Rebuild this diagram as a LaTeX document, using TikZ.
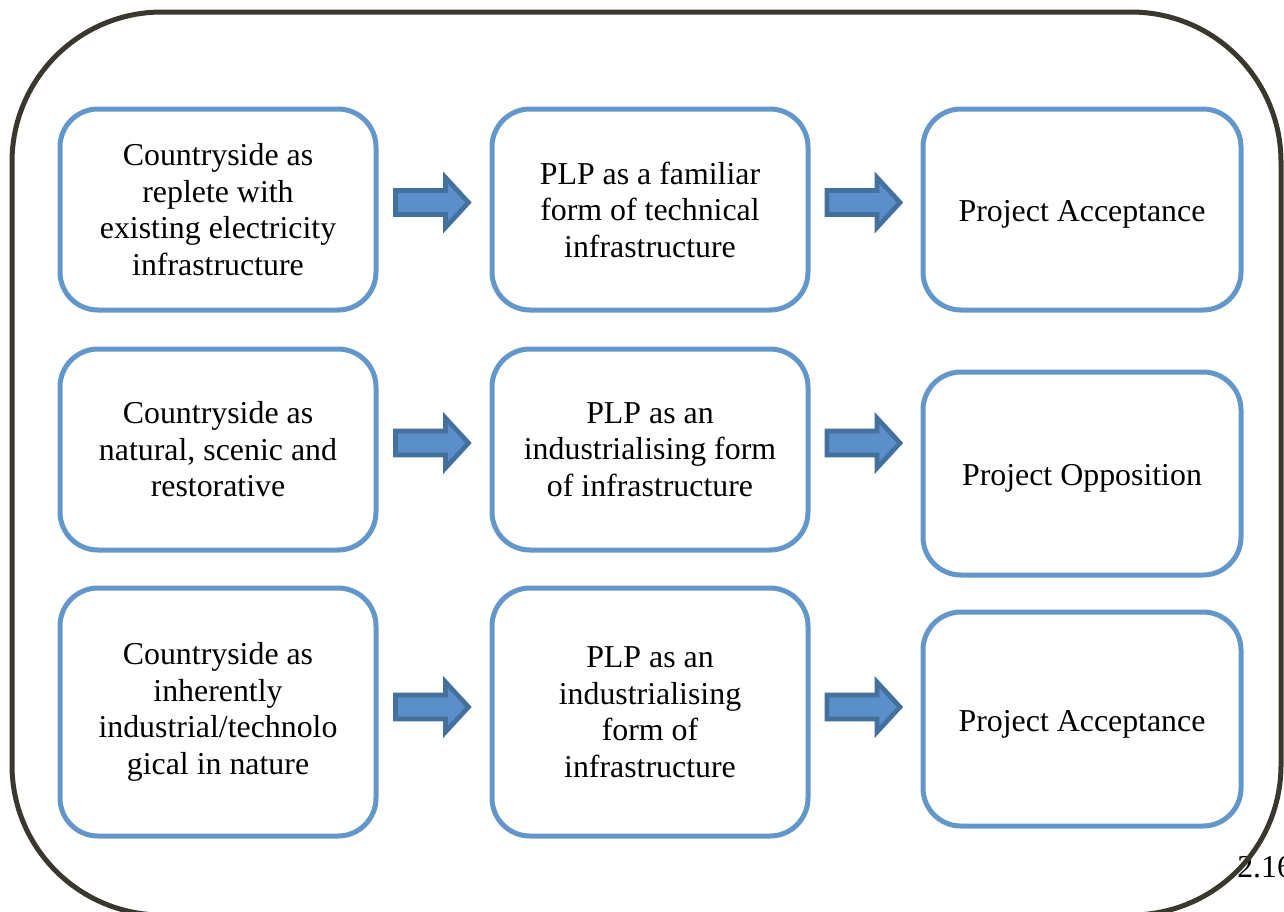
\documentclass[tikz,border=0pt]{standalone}
\usepackage{fontspec}
\setmainfont{Liberation Serif}
\usetikzlibrary{calc}
\definecolor{boxblue}{HTML}{6497C9}
\definecolor{arrfill}{HTML}{5B8FC9}
\definecolor{arredge}{HTML}{44709D}
\definecolor{framecol}{HTML}{3A372F}
\newcommand\flowarrow[3]{%
  \coordinate (tmp) at (#1.east -| #2.west);
  \draw[blockarrow,shift={($(#1.east)!0.5!(tmp)+(-1.5,#3)$)}]
    (-37,-12) -- (13,-12) -- (13,-25) -- (36,0) -- (13,25) -- (13,12) -- (-37,12) -- cycle;}
\begin{document}
\begin{tikzpicture}[x=0.75pt,y=-0.75pt,
  stagebox/.style={draw=boxblue,line width=3.75pt,rounded corners=28.5pt,
    minimum width=237pt,minimum height=150.75pt,inner sep=0pt,align=center,
    font=\fontsize{23.9}{27.4}\selectfont},
  resultbox/.style={stagebox,minimum width=238.5pt,text height=18.5pt,text depth=0pt},
  blockarrow/.style={fill=arrfill,draw=arredge,line width=3.5pt,line join=miter},
  frame/.style={draw=framecol,line width=3.75pt,rounded corners=112.5pt}]
\useasboundingbox (0,0) rectangle (1284,911);
\fill[white] (0,0) rectangle (1284,911);

\node[stagebox] (a1) at (218,209.5) {Countryside as\\replete with\\existing electricity\\infrastructure};
\node[stagebox] (b1) at (650,209.5) {PLP as a familiar\\form of technical\\infrastructure};
\node[resultbox] (c1) at (1082,209.5) {Project Acceptance};

\node[stagebox] (a2) at (218,449.5) {Countryside as\\natural, scenic and\\restorative};
\node[stagebox] (b2) at (650,449.5) {PLP as an\\industrialising form\\of infrastructure};
\node[resultbox,minimum height=152.25pt] (c2) at (1082,473.5) {Project Opposition};

\node[stagebox,minimum height=186pt] (a3) at (218,712) {Countryside as\\inherently\\industrial/technolo\\gical in nature};
\node[stagebox,minimum height=186pt] (b3) at (650,712) {PLP as an\\industrialising\\form of\\infrastructure};
\node[resultbox,minimum height=160.5pt] (c3) at (1082,719) {Project Acceptance};

\flowarrow{a1}{b1}{-7}
\flowarrow{b1}{c1}{-7}
\flowarrow{a2}{b2}{-6.5}
\flowarrow{b2}{c2}{-6.5}
\flowarrow{a3}{b3}{-5}
\flowarrow{b3}{c3}{-5}

\node[anchor=base west,inner sep=0pt,font=\fontsize{23.9}{27.4}\selectfont] (pg) at (1237,877) {2.16};

\draw[frame] (12,12) rectangle (1281,915);
\end{tikzpicture}
\end{document}
